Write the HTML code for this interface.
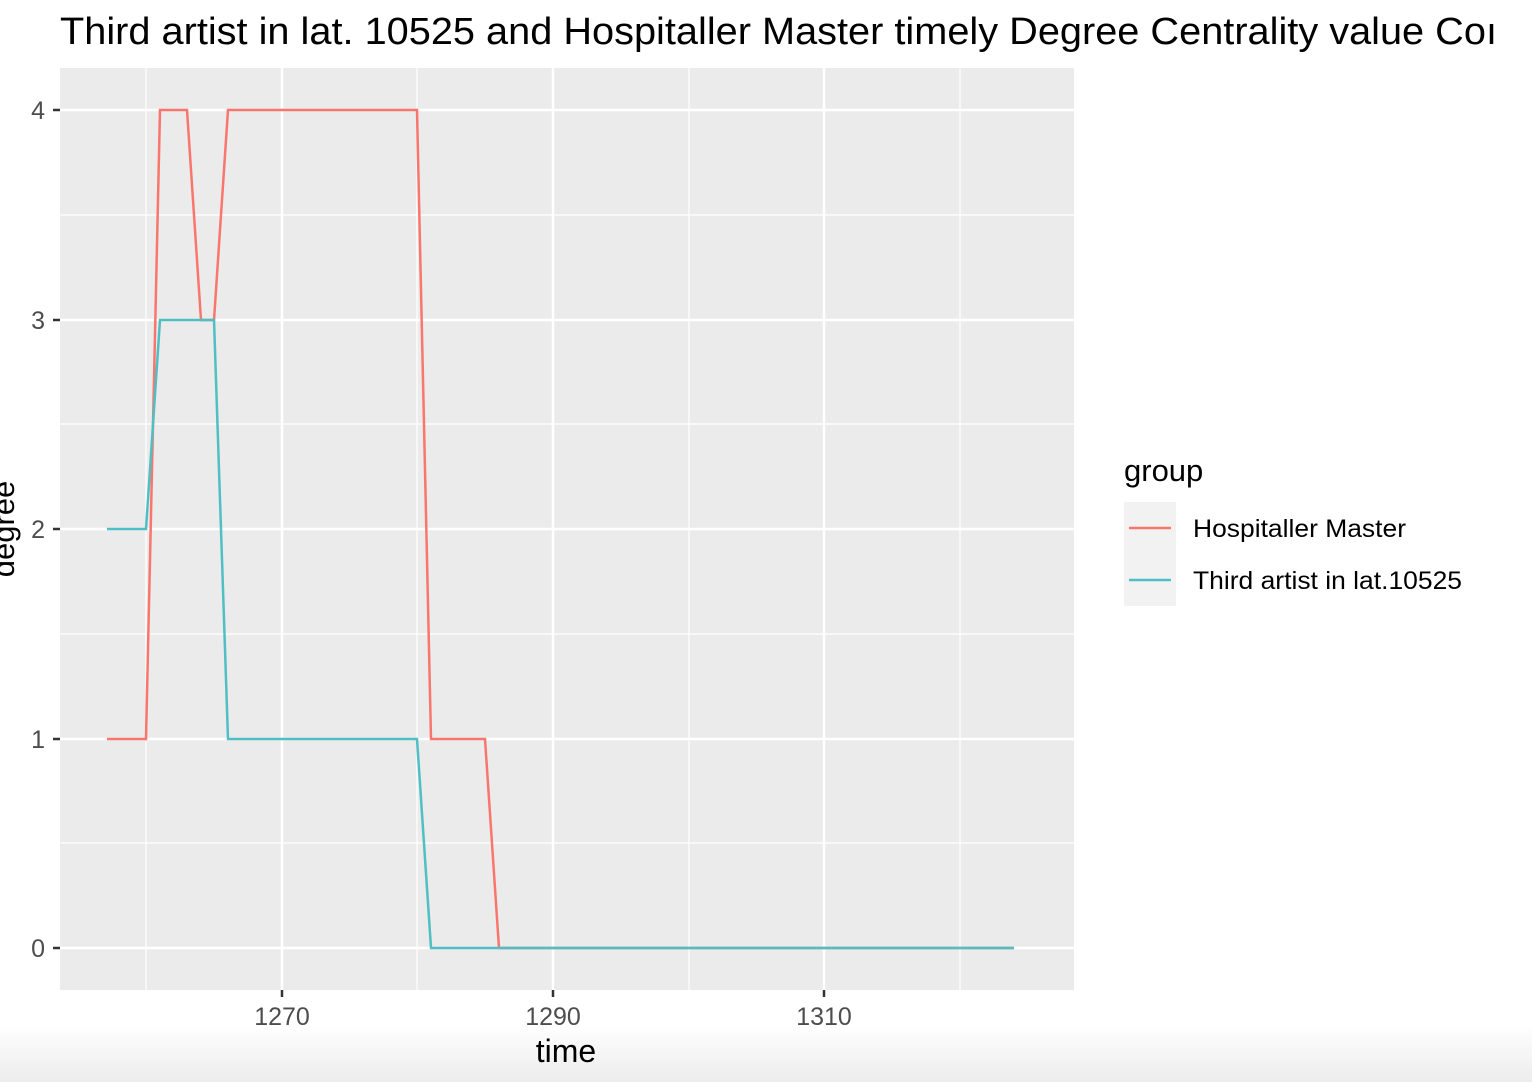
<!DOCTYPE html>
<html><head><style>
html,body{margin:0;padding:0;width:1532px;height:1082px;overflow:hidden;background:#fff}
</style></head><body>
<svg width="1532" height="1082" xmlns="http://www.w3.org/2000/svg" style="position:absolute;left:0;top:0">
<defs><linearGradient id="g" x1="0" y1="0" x2="0" y2="1"><stop offset="0" stop-color="#fff"/><stop offset="1" stop-color="#ececec"/></linearGradient></defs>
<rect x="0" y="1025" width="1532" height="57" fill="url(#g)"/>
<text x="60" y="44" font-family="Liberation Sans, sans-serif" font-size="38" textLength="1437" lengthAdjust="spacingAndGlyphs" fill="#000">Third artist in lat. 10525 and Hospitaller Master timely Degree Centrality value Coı</text>
<rect x="60" y="68" width="1014" height="922" fill="#ebebeb"/>
<g stroke="#fff" stroke-width="1.2">
<line x1="60" x2="1074" y1="215" y2="215"/><line x1="60" x2="1074" y1="424" y2="424"/><line x1="60" x2="1074" y1="634" y2="634"/><line x1="60" x2="1074" y1="843" y2="843"/>
<line x1="146" x2="146" y1="68" y2="990"/><line x1="417" x2="417" y1="68" y2="990"/><line x1="689" x2="689" y1="68" y2="990"/><line x1="960" x2="960" y1="68" y2="990"/>
</g>
<g stroke="#fff" stroke-width="2.5">
<line x1="60" x2="1074" y1="110" y2="110"/><line x1="60" x2="1074" y1="320" y2="320"/><line x1="60" x2="1074" y1="529" y2="529"/><line x1="60" x2="1074" y1="739" y2="739"/><line x1="60" x2="1074" y1="948" y2="948"/>
<line x1="282" x2="282" y1="68" y2="990"/><line x1="553" x2="553" y1="68" y2="990"/><line x1="824" x2="824" y1="68" y2="990"/>
</g>
<g stroke="#333" stroke-width="2.5">
<line x1="53" x2="60" y1="110" y2="110"/><line x1="53" x2="60" y1="320" y2="320"/><line x1="53" x2="60" y1="529" y2="529"/><line x1="53" x2="60" y1="739" y2="739"/><line x1="53" x2="60" y1="948" y2="948"/>
<line x1="282" x2="282" y1="990" y2="997"/><line x1="553" x2="553" y1="990" y2="997"/><line x1="824" x2="824" y1="990" y2="997"/>
</g>
<g font-family="Liberation Sans, sans-serif" font-size="25" fill="#4d4d4d">
<text x="45" y="119" text-anchor="end">4</text><text x="45" y="329" text-anchor="end">3</text><text x="45" y="538" text-anchor="end">2</text><text x="45" y="748" text-anchor="end">1</text><text x="45" y="957" text-anchor="end">0</text>
<text x="282" y="1025" text-anchor="middle">1270</text><text x="553" y="1025" text-anchor="middle">1290</text><text x="824" y="1025" text-anchor="middle">1310</text>
</g>
<text x="566" y="1062" text-anchor="middle" font-family="Liberation Sans, sans-serif" font-size="32" fill="#000">time</text>
<text transform="translate(14,529) rotate(-90)" text-anchor="middle" font-family="Liberation Sans, sans-serif" font-size="31" fill="#000">degree</text>
<polyline fill="none" stroke="#f8766d" stroke-width="2.5" points="107,739 146,739 160,110 187,110 201,320 214,320 228,110 417,110 431,739 485,739 499,948 1014,948"/>
<polyline fill="none" stroke="#4fbfc4" stroke-width="2.5" points="107,529 146,529 160,320 214,320 228,739 417,739 431,948 1014,948"/>
<text x="1124" y="481" font-family="Liberation Sans, sans-serif" font-size="31" fill="#000">group</text>
<rect x="1124" y="502" width="52" height="104" fill="#f2f2f2"/>
<line x1="1129" x2="1171" y1="528" y2="528" stroke="#f8766d" stroke-width="2.5"/>
<line x1="1129" x2="1171" y1="580" y2="580" stroke="#4fbfc4" stroke-width="2.5"/>
<g font-family="Liberation Sans, sans-serif" font-size="25" fill="#000">
<text x="1193" y="537" textLength="213" lengthAdjust="spacingAndGlyphs">Hospitaller Master</text>
<text x="1193" y="589" textLength="269" lengthAdjust="spacingAndGlyphs">Third artist in lat.10525</text>
</g>
</svg>
</body></html>
